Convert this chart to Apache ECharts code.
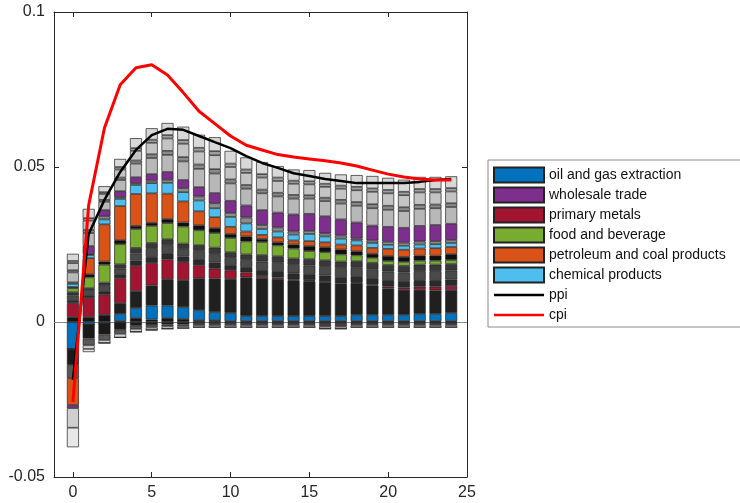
<!DOCTYPE html>
<html>
<head>
<meta charset="utf-8">
<script src="https://cdn.jsdelivr.net/npm/echarts@6/dist/echarts.min.js"></script>
<style>html,body{margin:0;padding:0;background:#fff}#c{width:740px;height:503px}</style>
</head>
<body>
<div id="c"></div>
<script>
var periods = [0,1,2,3,4,5,6,7,8,9,10,11,12,13,14,15,16,17,18,19,20,21,22,23,24];
var xTicks = [0,5,10,15,20,25];

var d1 = [.0016,.0016,.0023,.0003,.0013,.0008,.0013,.001,.0006,.0006,.0003,.0003,.0003,.0003,.0003,.0003,.0003,.0003,.0003,.0003,.0003,.0003,.0003,.0003,.0003];
var oil = [-.0087,-.0008,-.0005,.0023,.0032,.0045,.004,.0038,.0032,.0026,.0026,.0016,.0016,.0016,.0016,.0016,.0016,.0016,.002,.002,.002,.002,.0023,.0023,.0026];
var d2 = [0,0,0,.0035,.0055,.0065,.0085,.0087,.0103,.0108,.011,.0125,.0123,.012,.0115,.0113,.011,.0105,.0103,.0095,.0085,.0081,.0078,.0076,.0074];
var n1 = [-.0052,-.0045,-.0035,-.0025,-.0012,-.001,-.0008,-.0008,-.0006,-.0006,-.0006,-.0006,-.0006,-.0006,-.0006,-.0006,-.0006,-.0006,-.0006,-.0006,-.0006,-.0006,-.0006,-.0006,-.0006];
var n2 = [-.0042,-.0022,-.0018,-.0013,-.001,-.0008,-.0006,-.0005,-.0004,-.0004,-.0004,-.0004,-.0004,-.0004,-.0004,-.0004,-.0004,-.0004,-.0004,-.0004,-.0004,-.0004,-.0004,-.0004,-.0004];
var metals = [.0045,.0061,.0065,.008,.0081,.0072,.0064,.0058,.0042,.0032,.0028,.0016,.0006,.0005,.0003,.0003,-.0005,-.0005,.0002,.0003,.0006,.0007,.001,.0012,.0013];
var d3 = [.001,.001,.0012,.0013,.0017,.002,.002,.0018,.002,.002,.0017,.0017,.002,.002,.002,.002,.0021,.0021,.002,.0021,.0021,.0021,.0021,.0021,.0021];
var d4 = [.0015,.0013,.0016,.0018,.0023,.0026,.0026,.0024,.0026,.0027,.0023,.0023,.0027,.0027,.0027,.0027,.0028,.0029,.0027,.0028,.0028,.0028,.0029,.0029,.0029];
var d5 = [.001,.0009,.0011,.0014,.0018,.0019,.0019,.0018,.0019,.0021,.0018,.0018,.0021,.0021,.0021,.0021,.0021,.0021,.0021,.0021,.0021,.0021,.0021,.0021,.0021];
var food = [.0013,.0035,.0058,.0065,.0061,.0055,.0052,.0055,.0048,.0047,.0046,.0042,.0042,.0035,.0032,.0026,.0026,.0023,.0019,.0016,.0013,.0013,.0013,.0013,.0013];
var d6 = [.0004,.001,.001,.0013,.001,.001,.0013,.0013,.0016,.0016,.0013,.0016,.001,.001,.0013,.0016,.0016,.0016,.0013,.0013,.0016,.0016,.0016,.0016,.0019];
var petroleum = [-.0087,.0052,.012,.011,.0103,.0095,.0082,.0068,.0045,.0035,.0023,.0016,.0013,.0016,.0013,.0016,.0016,.0016,.0019,.0019,.0023,.0023,.0023,.0024,.0023];
var chem = [.001,.001,.0016,.0023,.0029,.0033,.0035,.003,.0035,.0029,.0032,.0026,.0019,.0019,.0019,.0023,.0019,.0019,.0016,.0016,.0013,.0013,.0013,.0013,.0013];
var g1 = [.0005,.0003,.001,.0006,.0006,.0008,.001,.0013,.0013,.0016,.0013,.0019,.0013,.0013,.001,.001,.001,.001,.0006,.0008,.001,.001,.001,.001,.001];
var wholesale = [-.001,.0026,.002,.0019,.0019,.0021,.0025,.0026,.003,.0033,.0039,.0039,.0048,.0048,.0055,.0055,.0055,.0052,.0052,.0048,.0048,.0048,.005,.0052,.0052];
var gA = [.0032,.0042,.0027,.0036,.0044,.0052,.0055,.006,.0059,.0063,.0056,.0054,.0054,.0052,.0051,.0049,.0049,.0051,.0054,.0056,.0055,.0054,.0055,.0054,.0054];
var gB = [.0007,.001,.0006,.0008,.001,.0012,.0013,.0014,.0014,.0014,.0013,.0012,.0012,.0012,.0012,.0011,.0011,.0012,.0012,.0013,.0013,.0012,.0013,.0012,.0012];
var gC = [.0023,.003,.0019,.0026,.0031,.0037,.004,.0043,.0042,.0045,.004,.0039,.0039,.0038,.0036,.0035,.0035,.0036,.0038,.004,.004,.0039,.004,.0039,.0038];
var gD = [.0007,.0008,.0006,.0008,.0009,.001,.0011,.0012,.0012,.0013,.0011,.0011,.0011,.0011,.001,.001,.001,.001,.0011,.0011,.0011,.0011,.0011,.0011,.0011];
var gE = [.0023,.003,.0019,.0026,.0032,.0037,.0039,.0043,.0042,.0045,.0041,.0039,.0039,.0037,.0036,.0036,.0035,.0036,.0038,.004,.0039,.0039,.0039,.0039,.0038];
var nA = [-.0063,-.0012,-.001,-.0012,-.001,-.0008,-.0008,-.0007,-.0007,-.0007,-.0007,-.0007,-.0007,-.0007,-.0007,-.0007,-.0007,-.0007,-.0007,-.0007,-.0007,-.0007,-.0007,-.0007,-.0007];
var nB = [-.0063,-.001,0,0,0,0,0,0,0,0,0,0,0,0,0,0,0,0,0,0,0,0,0,0,0];

var ppi = [-.0187,.0284,.0394,.0484,.0555,.0603,.0623,.062,.06,.058,.0561,.0535,.0513,.0497,.048,.0471,.0461,.0455,.0448,.0448,.0448,.0448,.0452,.0458,.0461];
var cpi = [-.0258,.0377,.0626,.0765,.082,.083,.0797,.074,.068,.064,.060,.057,.0555,.054,.0532,.0526,.052,.0513,.0503,.049,.0477,.0468,.0461,.0458,.0458];

var barDefs = [
  ['d1', d1, '#141414'],
  ['oil and gas extraction', oil, '#0072BD'],
  ['d2', d2, '#202020'],
  ['n1', n1, '#1a1a1a'],
  ['n2', n2, '#595959'],
  ['primary metals', metals, '#A2142F'],
  ['d3', d3, '#2a2a2a'],
  ['d4', d4, '#4a4a4a'],
  ['d5', d5, '#383838'],
  ['food and beverage', food, '#77AC30'],
  ['d6', d6, '#0f0f0f'],
  ['petroleum and coal products', petroleum, '#D95319'],
  ['chemical products', chem, '#4DBEEE'],
  ['g1', g1, '#8c8c8c'],
  ['wholesale trade', wholesale, '#7E2F8E'],
  ['gA', gA, '#b8b8b8'],
  ['gB', gB, '#8a8a8a'],
  ['gC', gC, '#c4c4c4'],
  ['gD', gD, '#a0a0a0'],
  ['gE', gE, '#d8d8d8'],
  ['nA', nA, '#cfcfcf'],
  ['nB', nB, '#e8e8e8']
];

function pairs(arr){ return periods.map(function(t,i){ return [t, arr[i]]; }); }

var series = barDefs.map(function(d){
  return {
    name: d[0], type: 'bar', stack: 'total', barWidth: 12,
    xAxisIndex: 2, yAxisIndex: 2,
    data: d[1],
    itemStyle: { color: d[2], borderColor: '#222', borderWidth: 0.7 },
    emphasis: { disabled: true },
    animation: false
  };
});
series.push({ name: 'ppi', type: 'line', data: pairs(ppi), symbol: 'none', z: 5,
  xAxisIndex: 0, yAxisIndex: 0,
  lineStyle: { color: '#000', width: 2.5 }, itemStyle: { color: '#000' }, animation: false,
  markLine: { silent: true, symbol: 'none', animation: false, z: 1,
    lineStyle: { color: '#8a8a8a', width: 1, type: 'solid' },
    label: { show: false }, data: [{ yAxis: 0 }] } });
series.push({ name: 'cpi', type: 'line', data: pairs(cpi), symbol: 'none', z: 6,
  xAxisIndex: 0, yAxisIndex: 0,
  lineStyle: { color: '#ff0000', width: 3 }, itemStyle: { color: '#ff0000' }, animation: false });

var axisCol = '#262626';
var labelFont = { fontFamily: 'Liberation Sans', fontSize: 16, color: axisCol };
var lineIcon = 'path://M0,0L100,0L100,5L0,5Z';

var option = {
  backgroundColor: '#fff',
  animation: false,
  grid: [
    { left: 54, right: 273, top: 12, bottom: 26 },
    { left: 65.04, right: 280.9, top: 12, bottom: 26 }
  ],
  legend: {
    orient: 'vertical', left: 488, top: 160,
    icon: 'rect',
    data: ['oil and gas extraction','wholesale trade','primary metals','food and beverage','petroleum and coal products','chemical products',
      { name: 'ppi', icon: lineIcon }, { name: 'cpi', icon: lineIcon }],
    itemWidth: 50, itemHeight: 15, itemGap: 0,
    padding: [5, 40, 2, 5],
    borderColor: '#8a8a8a', borderWidth: 1, backgroundColor: '#fff',
    textStyle: { fontFamily: 'Liberation Sans', fontSize: 14, color: '#111', lineHeight: 20 },
    selectedMode: false
  },
  xAxis: [{
    gridIndex: 0, type: 'value', min: -1.2, max: 25, position: 'bottom',
    axisLine: { show: true, onZero: false, lineStyle: { color: axisCol, width: 1 } },
    axisTick: { show: true, inside: true, length: 5, customValues: xTicks, lineStyle: { color: axisCol } },
    axisLabel: Object.assign({ customValues: xTicks, margin: 8 }, labelFont),
    splitLine: { show: false }
  }, {
    gridIndex: 0, type: 'value', min: -1.2, max: 25, position: 'top',
    axisLine: { show: true, onZero: false, lineStyle: { color: axisCol, width: 1 } },
    axisTick: { show: true, inside: true, length: 5, customValues: xTicks, lineStyle: { color: axisCol } },
    axisLabel: { show: false },
    splitLine: { show: false }
  }, {
    gridIndex: 1, type: 'category', data: periods, boundaryGap: true, show: false
  }],
  yAxis: [{
    gridIndex: 0, type: 'value', min: -0.05, max: 0.1, interval: 0.05, position: 'left',
    axisLine: { show: true, onZero: false, lineStyle: { color: axisCol, width: 1 } },
    axisTick: { show: true, inside: true, length: 5, lineStyle: { color: axisCol } },
    axisLabel: Object.assign({ margin: 9 }, labelFont),
    splitLine: { show: false }
  }, {
    gridIndex: 0, type: 'value', min: -0.05, max: 0.1, interval: 0.05, position: 'right',
    axisLine: { show: true, onZero: false, lineStyle: { color: axisCol, width: 1 } },
    axisTick: { show: true, inside: true, length: 5, lineStyle: { color: axisCol } },
    axisLabel: { show: false },
    splitLine: { show: false }
  }, {
    gridIndex: 1, type: 'value', min: -0.05, max: 0.1, interval: 0.05, show: false
  }],
  series: series
};

var chart = echarts.init(document.getElementById('c'), null, { renderer: 'canvas' });
chart.setOption(option);
</script>
</body>
</html>
